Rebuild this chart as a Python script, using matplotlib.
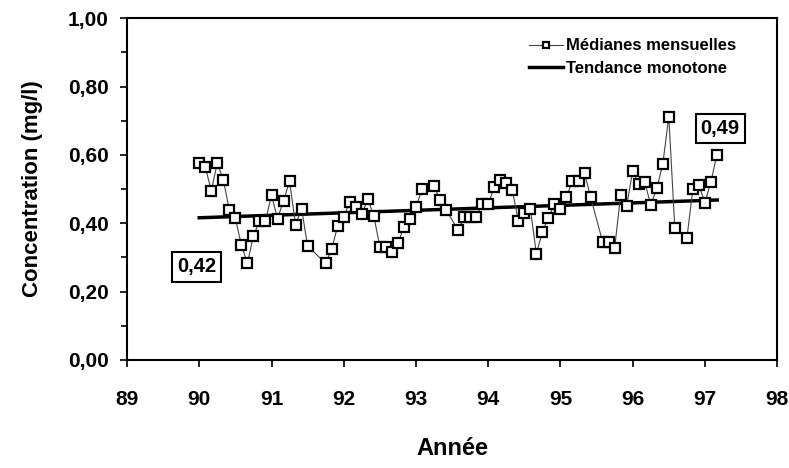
import numpy as np
import matplotlib
matplotlib.use('Agg')
import matplotlib.pyplot as plt
from matplotlib.ticker import MultipleLocator, FuncFormatter

plt.rcParams['font.family'] = ['Liberation Sans', 'DejaVu Sans']
plt.rcParams['font.weight'] = 'bold'

# mois depuis janvier 1990 (les mois manquants sont absents)
mois = [0, 1, 2, 3, 4, 5, 6, 7, 8, 9, 10, 11,
        12, 13, 14, 15, 16, 17, 18, 21, 22, 23,
        24, 25, 26, 27, 28, 29, 30, 31, 32, 33, 34, 35,
        36, 37, 39, 40, 41, 43, 44, 45, 46, 47,
        48, 49, 50, 51, 52, 53, 54, 55, 56, 57, 58, 59,
        60, 61, 62, 63, 64, 65, 67, 68, 69, 70, 71,
        72, 73, 74, 75, 76, 77, 78, 79, 81, 82, 83,
        84, 85, 86]
medianes = [0.577, 0.565, 0.495, 0.577, 0.526, 0.439, 0.414, 0.336, 0.283, 0.363, 0.407, 0.407,
            0.482, 0.413, 0.466, 0.523, 0.395, 0.443, 0.333, 0.283, 0.324, 0.393,
            0.419, 0.463, 0.448, 0.427, 0.470, 0.421, 0.331, 0.331, 0.317, 0.341, 0.390, 0.411,
            0.448, 0.499, 0.509, 0.468, 0.439, 0.380, 0.417, 0.417, 0.417, 0.456,
            0.456, 0.505, 0.528, 0.518, 0.497, 0.407, 0.430, 0.443, 0.310, 0.375, 0.416, 0.456,
            0.443, 0.477, 0.525, 0.524, 0.547, 0.477, 0.346, 0.346, 0.327, 0.483, 0.451,
            0.553, 0.515, 0.521, 0.453, 0.502, 0.573, 0.712, 0.385, 0.356, 0.500, 0.512,
            0.460, 0.522, 0.601]

tendance_x = [90.0, 97.17]
tendance_y = [0.416, 0.468]

annotations = [("0,42", 89.96, 0.272), ("0,49", 97.21, 0.678)]

annees = 90 + np.array(mois) / 12.0

fig = plt.figure(figsize=(7.89, 4.68), dpi=100)
ax = fig.add_axes([0.161, 0.231, 0.824, 0.730])

ax.plot(annees, medianes, color='#444444', linewidth=0.8, marker='s', markersize=6.5,
        markerfacecolor='white', markeredgecolor='black', markeredgewidth=1.6,
        label='Médianes mensuelles', zorder=3)
ax.plot(tendance_x, tendance_y, color='black', linewidth=2.5,
        label='Tendance monotone', zorder=2)

for txt, x, y in annotations:
    ax.text(x, y, txt, ha='center', va='center', fontsize=14.5, fontweight='bold',
            bbox=dict(boxstyle='square,pad=0.25', fc='white', ec='black', lw=1.5))

ax.set_xlim(89, 98)
ax.set_ylim(0, 1.0)
ax.xaxis.set_major_locator(MultipleLocator(1))
ax.yaxis.set_major_locator(MultipleLocator(0.2))
ax.yaxis.set_minor_locator(MultipleLocator(0.1))
ax.yaxis.set_major_formatter(FuncFormatter(lambda v, p: f"{v:.2f}".replace('.', ',')))
ax.xaxis.set_major_formatter(FuncFormatter(lambda v, p: f"{int(round(v))}"))

for s in ax.spines.values():
    s.set_linewidth(1.5)
ax.tick_params(axis='both', which='major', labelsize=15, width=1.2, length=5, direction='out')
ax.tick_params(axis='x', pad=17)
ax.tick_params(axis='y', pad=8)
ax.tick_params(axis='y', which='minor', length=4, width=1.2)

ax.set_xlabel('Année', fontsize=17, fontweight='bold', labelpad=20)
ax.set_ylabel('Concentration (mg/l)', fontsize=16, fontweight='bold', labelpad=18)

leg = ax.legend(loc='upper right', bbox_to_anchor=(0.96, 0.985), frameon=False,
                handlelength=2.0, handletextpad=0.2, labelspacing=0.45,
                prop={'weight': 'bold', 'size': 12})
for h in leg.legend_handles:
    if h.get_marker() == 's':
        h.set_markersize(5)

fig.savefig('out.png', dpi=100, facecolor='white')
